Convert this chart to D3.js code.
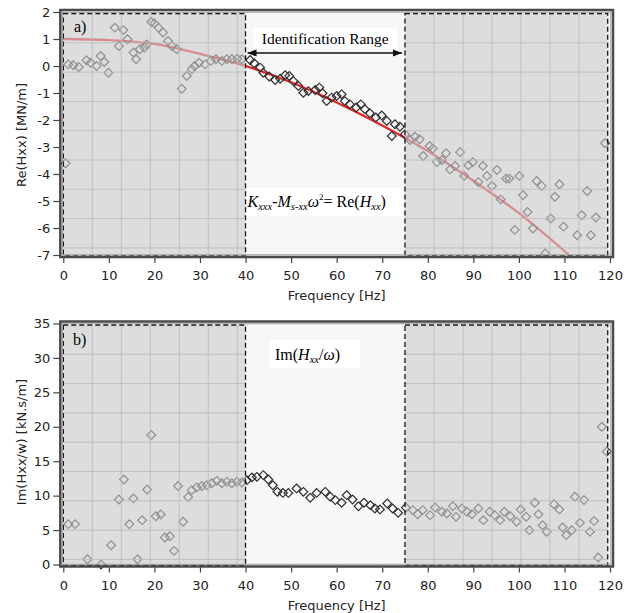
<!DOCTYPE html>
<html>
<head>
<meta charset="utf-8">
<script src="https://cdn.jsdelivr.net/npm/d3@7"></script>
<style>
  body { margin: 0; background: #fff; }
  svg { display: block; }
</style>
</head>
<body>
<div id="chart"></div>
<script>
// frequency axis
const xTicks = [0, 10, 20, 30, 40, 50, 60, 70, 80, 90, 100, 110, 120];
const idRange = [40, 75];
const outerEnd = 119.5;

// a) real part, measured points
const reFreq = [0.5, 1.1, 2.2, 3.4, 5.1, 6.0, 7.3, 8.2, 9.0, 9.9, 11.3, 12.2, 13.2, 14.1, 15.4, 16.0, 16.8, 17.8, 18.3, 19.3,
  20.0, 20.9, 21.9, 23.0, 23.8, 24.9, 26.0, 27.1, 28.2, 28.8, 29.8, 31.1, 32.4, 33.5, 34.8, 35.9, 37.0, 38.2, 39.2,
  41.0, 41.9, 43.2, 43.9, 45.2, 46.5, 47.6, 48.7, 49.6, 50.5, 51.6, 52.7, 53.8, 55.3, 56.2, 56.9, 57.8, 58.9, 60.0,
  61.1, 61.8, 62.9, 64.3, 65.3, 66.2, 67.3, 68.6, 69.9, 71.0, 72.1, 72.8, 73.9, 75.0, 76.1, 77.2, 78.2, 79.0, 80.4,
  81.1, 82.0, 83.1, 84.0, 84.9, 86.0, 87.1, 88.0, 88.9, 89.9, 91.1, 92.1, 93.0, 94.1, 95.2, 96.0, 97.2, 97.9, 99.1,
  100.1, 100.9, 101.9, 103.1, 103.9, 105.0, 105.8, 107.0, 107.9, 108.9, 109.8, 112.8, 113.8, 115.0, 115.8, 116.9, 118.9];
const reVal = [-3.6, 0.06, 0.03, -0.04, 0.21, 0.12, 0.0, 0.37, 0.15, -0.25, 1.42, 0.74, 1.33, 0.99, 0.5, 0.25, 0.62, 0.68, 0.8, 1.63,
  1.58, 1.42, 1.24, 0.93, 0.74, 0.62, -0.84, -0.37, -0.12, 0.0, 0.12, 0.06, 0.19, 0.25, 0.19, 0.25, 0.25, 0.27, 0.25,
  0.22, 0.1, -0.06, -0.25, -0.39, -0.52, -0.47, -0.34, -0.37, -0.56, -0.74, -0.99, -0.93, -0.89, -0.8, -1.01, -1.3, -1.17, -1.11,
  -1.05, -1.3, -1.42, -1.54, -1.42, -1.6, -1.75, -1.91, -1.83, -2.04, -2.59, -2.16, -2.25, -2.53, -2.74, -2.62, -2.71, -3.33, -2.96,
  -3.06, -3.56, -3.48, -3.23, -3.83, -3.7, -3.19, -4.07, -3.68, -3.56, -4.3, -3.7, -4.07, -4.44, -3.85, -4.94, -4.17, -4.17, -6.07,
  -4.07, -4.79, -5.41, -6.02, -4.26, -4.44, -6.94, -5.65, -4.84, -4.38, -5.95, -6.27, -5.53, -4.63, -6.27, -5.61, -2.86];

// a) fitted curve K - M w^2
const fitFreq = [0, 10, 20, 30, 40, 50, 60, 70, 80, 90, 100, 111];
const fitVal = [1.0, 0.96, 0.82, 0.45, 0.0, -0.6, -1.35, -2.2, -3.15, -4.25, -5.45, -7.0];
const reTicks = [2, 1, 0, -1, -2, -3, -4, -5, -6, -7];

// b) imaginary part / w
const imFreq = [1.1, 2.6, 5.3, 8.3, 10.5, 12.2, 13.3, 14.5, 15.4, 16.3, 17.3, 18.4, 19.3, 20.3, 21.4, 22.3, 23.4, 24.3, 25.2, 26.3,
  27.4, 28.2, 29.3, 30.4, 31.5, 32.6, 33.7, 34.8, 35.9, 37.0, 38.1, 39.2, 40.3, 41.4, 42.5, 43.9, 45.0, 46.0, 47.0, 48.2,
  49.4, 51.2, 52.7, 54.2, 55.6, 57.5, 58.6, 59.7, 61.1, 62.2, 63.5, 64.8, 66.0, 67.4, 68.4, 69.5, 71.1, 72.3, 73.5, 75.2,
  76.7, 77.8, 78.9, 80.5, 81.6, 83.1, 84.2, 85.5, 86.2, 87.5, 88.6, 89.7, 91.1, 92.2, 93.6, 94.7, 95.9, 96.8, 98.1, 99.5,
  100.4, 101.6, 102.3, 103.5, 104.3, 105.2, 106.1, 107.7, 108.9, 109.6, 110.4, 111.6, 112.3, 113.4, 114.3, 115.6, 116.5, 117.4, 118.2, 119.3];
const imVal = [5.86, 5.86, 0.77, 0.0, 2.8, 9.45, 12.35, 5.86, 9.6, 0.77, 6.44, 10.9, 18.8, 7.0, 7.27, 3.92, 4.1, 1.98, 11.4, 6.2,
  9.8, 10.8, 11.2, 11.4, 11.5, 11.8, 12.15, 11.8, 12.0, 11.8, 12.0, 11.9, 12.25, 12.65, 12.73, 12.98, 12.35, 11.5, 10.55, 10.4,
  10.4, 11.05, 10.55, 9.7, 10.4, 10.55, 9.83, 9.35, 8.96, 10.07, 9.45, 8.47, 8.96, 8.62, 8.14, 8.0, 8.87, 8.14, 7.5, 8.28,
  7.9, 7.3, 7.9, 7.17, 8.28, 7.65, 7.4, 8.47, 6.92, 8.14, 7.65, 7.3, 8.14, 6.44, 7.65, 7.17, 6.44, 7.65, 7.0, 6.2,
  8.0, 6.92, 4.99, 8.96, 7.3, 5.71, 4.74, 8.76, 8.0, 5.38, 4.26, 4.99, 9.83, 6.05, 9.35, 4.74, 6.3, 1.02, 20.0, 16.4];
const imTicks = [0, 5, 10, 15, 20, 25, 30, 35];

const width = 630;
const height = 613;
const sans = 'DejaVu Sans, Verdana, sans-serif';
const serif = 'Liberation Serif, Times New Roman, serif';

const svg = d3.select('#chart').append('svg')
  .attr('width', width)
  .attr('height', height);

const x = d3.scaleLinear().domain([0, 120]).range([63.3, 610]);
const yRe = d3.scaleLinear().domain([-7, 2]).range([255, 12]);
const yIm = d3.scaleLinear().domain([0, 35]).range([564.5, 323.5]);

const diamond = d3.symbol().type(d3.symbolSquare).size(38);

// one panel: background, curve, markers, grey outer ranges, frame, axes
function panel(y, freqs, vals, yTicks, yTitle, labelX) {
  const g = svg.append('g');
  const top = y.range()[1], bot = y.range()[0];
  const left = x(0), right = x(120);

  g.append('rect')
    .attr('x', left - 3).attr('y', top - 2)
    .attr('width', right - left + 6).attr('height', bot - top + 4)
    .attr('fill', '#f9f6f6');

  const inner = g.append('g');

  // grey outer ranges with their own grid
  const zones = [[0, idRange[0]], [idRange[1], outerEnd]];
  const over = g.append('g');
  zones.forEach(z => {
    const x0 = x(z[0]), x1 = x(z[1]);
    const y0 = top + 1.5, y1 = bot + 0.8;
    over.append('rect')
      .attr('x', x0).attr('y', y0)
      .attr('width', x1 - x0).attr('height', y1 - y0)
      .attr('fill', '#cdcdcd').attr('fill-opacity', 0.62);
    d3.range(x0 + 29, x1 - 2, 29).forEach(gx => {
      over.append('line').attr('x1', gx).attr('x2', gx).attr('y1', y0).attr('y2', y1)
        .attr('stroke', '#b9b9b9').attr('stroke-width', 0.8);
    });
    d3.range(y0 + 29.3, y1 - 2, 29.3).forEach(gy => {
      over.append('line').attr('x1', x0).attr('x2', x1).attr('y1', gy).attr('y2', gy)
        .attr('stroke', '#b9b9b9').attr('stroke-width', 0.8);
    });
    over.append('rect')
      .attr('x', x0).attr('y', y0)
      .attr('width', x1 - x0).attr('height', y1 - y0)
      .attr('fill', 'none').attr('stroke', '#111')
      .attr('stroke-width', 1.3).attr('stroke-dasharray', '5,3');
  });

  // markers go under the grey overlay
  inner.selectAll('path.pt')
    .data(freqs.map((f, i) => [f, vals[i]]))
    .enter().append('path')
    .attr('class', 'pt')
    .attr('d', diamond)
    .attr('transform', d => `translate(${x(d[0])},${y(d[1])}) rotate(45)`)
    .attr('fill', 'none')
    .attr('stroke', '#2e2e2e')
    .attr('stroke-width', 1.2);

  // frame
  g.append('rect')
    .attr('x', left - 3).attr('y', top - 2)
    .attr('width', right - left + 6).attr('height', bot - top + 4)
    .attr('fill', 'none').attr('stroke', '#4a4a4a').attr('stroke-width', 2.5);
  g.append('rect')
    .attr('x', left - 0.8).attr('y', top + 0.2)
    .attr('width', right - left + 1.6).attr('height', bot - top - 0.4)
    .attr('fill', 'none').attr('stroke', '#a0a0a0').attr('stroke-width', 1);

  const yAxis = g.append('g')
    .attr('transform', `translate(${left - 4},0)`)
    .call(d3.axisLeft(y).tickValues(yTicks).tickSize(6).tickPadding(3).tickFormat(d => String(d)));
  const xAxis = g.append('g')
    .attr('transform', `translate(0,${bot + 3})`)
    .call(d3.axisBottom(x).tickValues(xTicks).tickSize(5).tickPadding(8).tickFormat(d => String(d)));
  [yAxis, xAxis].forEach(a => {
    a.select('.domain').remove();
    a.selectAll('line').attr('stroke', '#444').attr('stroke-width', 1.2);
    a.selectAll('text').attr('fill', '#222').style('font-family', sans).style('font-size', '13px');
  });

  g.append('text')
    .attr('x', (x(0) + x(120)) / 2).attr('y', bot + 45)
    .attr('text-anchor', 'middle')
    .style('font-family', sans).style('font-size', '13px').attr('fill', '#222')
    .text('Frequency [Hz]');

  g.append('text')
    .attr('transform', `translate(26,${labelX}) rotate(-90)`)
    .attr('text-anchor', 'middle')
    .style('font-family', sans).style('font-size', '13px').attr('fill', '#222')
    .text(yTitle);

  return { g, inner, over };
}

// a) real part
const pa = panel(yRe, reFreq, reVal, reTicks, 'Re(Hxx) [MN/m]', 135);

const fitLine = d3.line()
  .x(d => x(d[0]))
  .y(d => yRe(d[1]))
  .curve(d3.curveMonotoneX);
pa.inner.insert('path', ':first-child')
  .datum(fitFreq.map((f, i) => [f, fitVal[i]]))
  .attr('d', fitLine)
  .attr('fill', 'none')
  .attr('stroke', '#e8262a')
  .attr('stroke-width', 2.3);

pa.g.append('text')
  .attr('x', 74).attr('y', 32)
  .style('font-family', serif).style('font-size', '16px')
  .text('a)');

const idMid = (x(idRange[0]) + x(idRange[1])) / 2;
pa.g.append('rect')
  .attr('x', idMid - 72).attr('y', 28).attr('width', 144).attr('height', 20)
  .attr('fill', '#fff');
pa.g.append('text')
  .attr('x', idMid).attr('y', 44)
  .attr('text-anchor', 'middle')
  .style('font-family', serif).style('font-size', '15.5px')
  .text('Identification Range');

const defs = svg.append('defs');
['arrEnd', 'arrStart'].forEach((id, i) => {
  defs.append('marker')
    .attr('id', id)
    .attr('viewBox', '0 0 10 10')
    .attr('refX', i === 0 ? 10 : 0).attr('refY', 5)
    .attr('markerWidth', 10).attr('markerHeight', 9)
    .attr('markerUnits', 'userSpaceOnUse')
    .attr('orient', 'auto')
    .append('path')
    .attr('d', i === 0 ? 'M0,1L10,5L0,9Z' : 'M10,1L0,5L10,9Z')
    .attr('fill', '#111');
});
pa.g.append('line')
  .attr('x1', x(idRange[0]) + 2).attr('x2', x(idRange[1]) - 3)
  .attr('y1', 53).attr('y2', 53)
  .attr('stroke', '#111').attr('stroke-width', 1.6)
  .attr('marker-start', 'url(#arrStart)')
  .attr('marker-end', 'url(#arrEnd)');

pa.g.append('rect')
  .attr('x', x(idRange[0]) + 1.5).attr('y', 188).attr('width', x(idRange[1]) - x(idRange[0]) - 3).attr('height', 28)
  .attr('fill', '#fff');
const eq = pa.g.append('text')
  .attr('x', x(idRange[0]) + 2).attr('y', 207)
  .style('font-family', serif).style('font-size', '16px');
eq.append('tspan').style('font-style', 'italic').text('K');
eq.append('tspan').style('font-style', 'italic').style('font-size', '10.5px').attr('dy', 3).text('xxx');
eq.append('tspan').attr('dy', -3).text('-');
eq.append('tspan').style('font-style', 'italic').text('M');
eq.append('tspan').style('font-style', 'italic').style('font-size', '10.5px').attr('dy', 3).text('s-xx');
eq.append('tspan').style('font-style', 'italic').attr('dy', -3).text('ω');
eq.append('tspan').style('font-size', '9px').attr('dy', -7).text('2');
eq.append('tspan').attr('dy', 7).text('= Re(');
eq.append('tspan').style('font-style', 'italic').text('H');
eq.append('tspan').style('font-style', 'italic').style('font-size', '10.5px').attr('dy', 3).text('xx');
eq.append('tspan').attr('dy', -3).text(')');

// b) imaginary part
const pb = panel(yIm, imFreq, imVal, imTicks, 'Im(Hxx/w) [kN.s/m]', 442);

pb.g.append('text')
  .attr('x', 73).attr('y', 345)
  .style('font-family', serif).style('font-size', '16px')
  .text('b)');

pb.g.append('rect')
  .attr('x', 270).attr('y', 340).attr('width', 90).attr('height', 28)
  .attr('fill', '#fff');
const im = pb.g.append('text')
  .attr('x', 275).attr('y', 360)
  .style('font-family', serif).style('font-size', '16px');
im.append('tspan').text('Im(');
im.append('tspan').style('font-style', 'italic').text('H');
im.append('tspan').style('font-style', 'italic').style('font-size', '10.5px').attr('dy', 3).text('xx');
im.append('tspan').attr('dy', -3).text('/');
im.append('tspan').style('font-style', 'italic').text('ω');
im.append('tspan').text(')');
</script>
</body>
</html>
